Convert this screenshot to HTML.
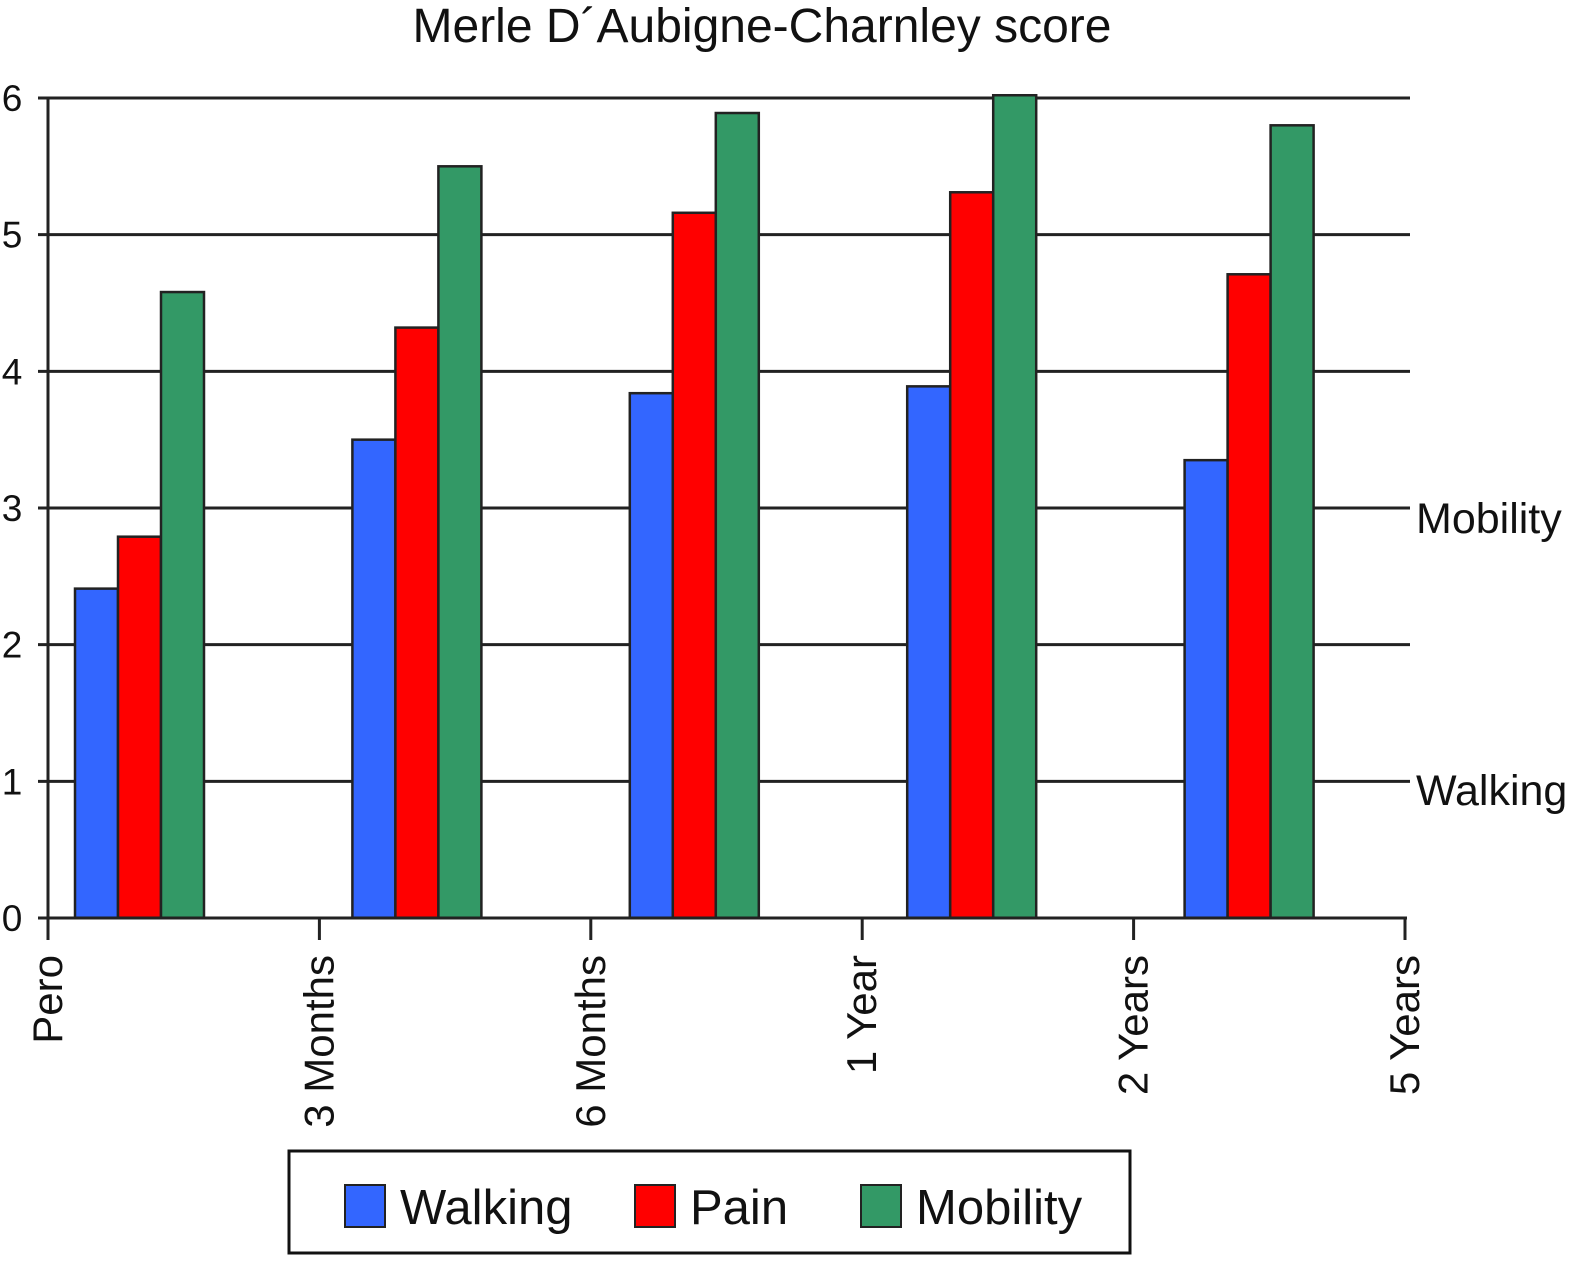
<!DOCTYPE html>
<html><head><meta charset="utf-8"><style>
body{margin:0;background:#fff;}
svg text{font-family:"Liberation Sans",Arial,sans-serif;fill:#111;}
</style></head><body>
<svg id="chart" width="1572" height="1258" viewBox="0 0 1572 1258" xmlns="http://www.w3.org/2000/svg">
<text x="762" y="42" font-size="48" text-anchor="middle">Merle D´Aubigne-Charnley score</text>
<g id="grid"></g><g id="bars"></g><g id="axes"></g>
<text x="1416" y="533" font-size="43">Mobility</text>
<text x="1416" y="805" font-size="43">Walking</text>
<g>
<rect x="289" y="1151" width="841" height="102" fill="#fff" stroke="#111" stroke-width="3"/>
<rect x="345" y="1185" width="40" height="42" fill="#3366ff" stroke="#222" stroke-width="2"/>
<text x="400" y="1224" font-size="49">Walking</text>
<rect x="635" y="1185" width="40" height="42" fill="#ff0000" stroke="#222" stroke-width="2"/>
<text x="690" y="1224" font-size="49">Pain</text>
<rect x="861" y="1185" width="40" height="42" fill="#339966" stroke="#222" stroke-width="2"/>
<text x="916" y="1224" font-size="49">Mobility</text>
</g>
</svg>
<script>
const groups = ["g1","g2","g3","g4","g5"];
const walking = [2.41, 3.50, 3.84, 3.89, 3.35];
const pain = [2.79, 4.32, 5.16, 5.31, 4.71];
const mobility = [4.58, 5.50, 5.89, 6.02, 5.80];
const yTicks = [0,1,2,3,4,5,6];
const xTickLabels = ["Pero","3 Months","6 Months","1 Year","2 Years","5 Years"];

const NS="http://www.w3.org/2000/svg";
function y(v){return 918 - v*136.67;}
function gx(i){return 139.5 + i*277.4;}
function tx(i){return 48 + i*(1405-48)/(xTickLabels.length-1);}
function mk(tag,attrs,parent){const e=document.createElementNS(NS,tag);for(const k in attrs)e.setAttribute(k,attrs[k]);parent.appendChild(e);return e;}
const grid=document.getElementById('grid'),bars=document.getElementById('bars'),axes=document.getElementById('axes');
yTicks.forEach(t=>{
  if(t>0){const l=mk('line',{x1:38,x2:1410,y1:y(t),y2:y(t),stroke:'#222','stroke-width':3},grid);
  
  }
  const tt=mk('text',{x:12,y:y(t)+13,'font-size':37,'text-anchor':'middle'},axes);
  tt.textContent=t;
  
  
});
const series=[[walking,'#3366ff','walking'],[pain,'#ff0000','pain'],[mobility,'#339966','mobility']];
groups.forEach((g,i)=>{
  series.forEach((s,j)=>{
    const v=s[0][i];
    const r=mk('rect',{x:gx(i)-64.5+j*43,y:y(v),width:43,height:918-y(v),fill:s[1],stroke:'#222','stroke-width':2.5},bars);
    
    
  });
});
let a=mk('line',{x1:48,x2:48,y1:98,y2:918,stroke:'#222','stroke-width':3},axes);


a=mk('line',{x1:38,x2:1407,y1:918,y2:918,stroke:'#222','stroke-width':3},axes);


xTickLabels.forEach((lab,i)=>{
  const x=tx(i);
  mk('line',{x1:x,x2:x,y1:918,y2:940,stroke:'#222','stroke-width':3},axes);
  const t=mk('text',{x:0,y:0,'font-size':42,'text-anchor':'end',transform:`translate(${x+14},955) rotate(-90)`},axes);
  t.textContent=lab;
  
  
});
</script>
</body></html>
